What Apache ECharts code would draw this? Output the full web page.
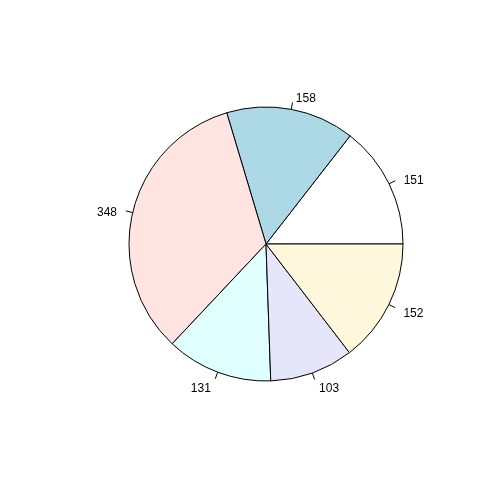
<!DOCTYPE html>
<html><head><meta charset="utf-8">
<script src="https://cdn.jsdelivr.net/npm/echarts@6/dist/echarts.min.js"></script>
<style>html,body{margin:0;padding:0;background:#fff}#c{width:504px;height:504px}</style>
</head><body><div id="c"></div>
<script>
var labels = ["151", "158", "348", "131", "103", "152"];
var values = [151, 158, 348, 131, 103, 152];
var colors = ["#FFFFFF", "#ADD8E6", "#FFE4E1", "#E0FFFF", "#E6E6FA", "#FFF8DC"];

var R = 137;
var chart = echarts.init(document.getElementById('c'), null, {renderer: 'canvas'});
chart.setOption({
  backgroundColor: '#ffffff',
  animation: false,
  series: [{
    type: 'pie',
    center: [266, 244],
    radius: [0, R],
    startAngle: 0,
    clockwise: false,
    avoidLabelOverlap: false,
    silent: true,
    z: 1,
    data: labels.map(function (l, i) {
      return {name: l, value: values[i], itemStyle: {color: colors[i]}};
    }),
    itemStyle: {borderColor: '#000', borderWidth: 1},
    emphasis: {disabled: true},
    label: {
      show: true,
      position: 'outside',
      formatter: ' ',
      fontSize: 1,
      color: 'rgba(0,0,0,0)'
    },
    labelLayout: {hideOverlap: false},
    labelLine: {
      show: true,
      length: Math.round(R * 0.05),
      length2: 0,
      lineStyle: {color: '#000', width: 1}
    }
  }, {
    type: 'pie',
    center: [266, 244],
    radius: [0, R],
    startAngle: 0,
    clockwise: false,
    avoidLabelOverlap: false,
    silent: true,
    z: 3,
    data: labels.map(function (l, i) {
      return {name: l, value: values[i]};
    }),
    itemStyle: {color: 'rgba(0,0,0,0)', borderWidth: 0},
    emphasis: {disabled: true},
    label: {
      show: true,
      position: 'outside',
      formatter: '{b}',
      fontFamily: 'Liberation Sans, Arial, sans-serif',
      fontSize: 12,
      color: '#000',
      distanceToLabelLine: 2
    },
    labelLayout: {hideOverlap: false, dy: 3},
    labelLine: {
      show: true,
      length: Math.round(R * 0.1),
      length2: 0,
      lineStyle: {color: 'rgba(0,0,0,0)', width: 1}
    }
  }]
});
</script></body></html>
